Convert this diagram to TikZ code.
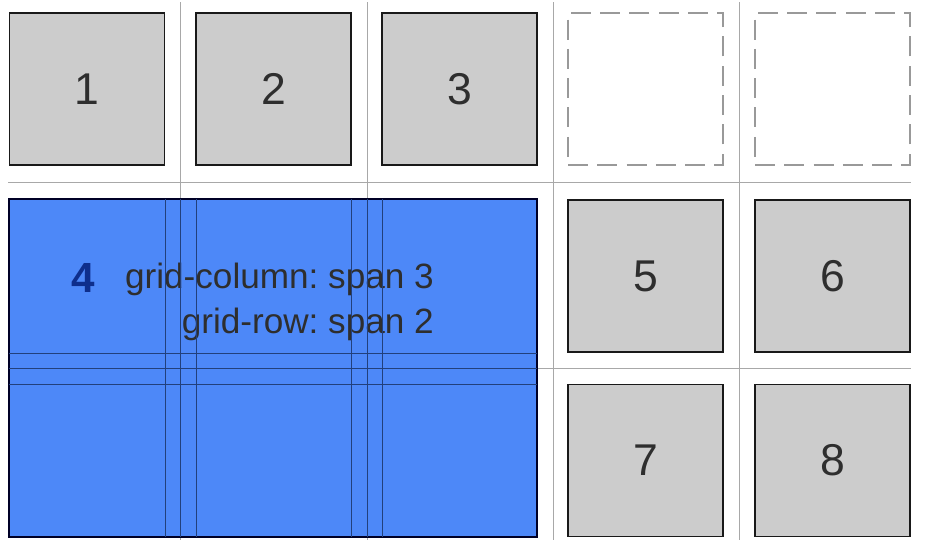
\documentclass[tikz,border=0pt]{standalone}
\usepackage{fontspec}
\setmainfont{Liberation Sans}
\frenchspacing

\definecolor{cellgray}{HTML}{CCCCCC}
\definecolor{linegray}{HTML}{A8A8A8}
\definecolor{dashgray}{HTML}{999999}
\definecolor{itemblue}{HTML}{4D88F8}
\definecolor{tracknavy}{HTML}{22407C}
\definecolor{textgray}{HTML}{2E2E2E}
\definecolor{numblue}{HTML}{0E2E8C}

\tikzset{
  gridline/.style={linegray, line width=0.7pt},
  trackline/.style={tracknavy, line width=0.7pt},
  cell/.style={draw=black!90, fill=cellgray, line width=1.6pt, minimum width=4.65cm, minimum height=4.56cm,
    inner sep=0pt, text=textgray, font=\fontsize{38}{40}\selectfont},
  emptycell/.style={draw=dashgray, line width=1.5pt, dash pattern=on 17pt off 8pt, minimum width=4.65cm,
    minimum height=4.56cm, inner sep=0pt},
  spancell/.style={draw=black!85!blue, fill=itemblue, line width=1.6pt, minimum width=15.84cm,
    minimum height=10.14cm, inner sep=0pt},
  spanlabel/.style={anchor=base east, text=textgray, inner sep=0pt, font=\fontsize{30}{32}\selectfont}
}

\begin{document}
\begin{tikzpicture}[x=0.03cm,y=-0.03cm]
    \useasboundingbox (0,0) rectangle (936,548);

    % gap lines of the grid
    \foreach \gx in {180,367,553,739}
        \draw[gridline] (\gx,2) -- (\gx,540);
    \foreach \gy in {182,368}
        \draw[gridline] (8,\gy) -- (911,\gy);

    % grid items
    \foreach \n/\x/\y in {1/87/89, 2/273.5/89, 3/459.5/89, 5/645.5/276, 6/832.5/276, 7/645.5/460.5, 8/832.5/460.5}
        \node[cell] (item\n) at (\x,\y) {\n};
    \node[emptycell] (free1) at (645.5,89) {};
    \node[emptycell] (free2) at (832.5,89) {};

    % item 4 spanning three columns and two rows
    \node[spancell] (item4) at (273,368) {};
    \node[text=numblue, inner sep=0pt, font=\bfseries\fontsize{36}{38}\selectfont] (num4) at (83,278) {4};
    \node[spanlabel] (colspan) at (434,288) {grid-column: span 3};
    \node[spanlabel] (rowspan) at (434,333) {grid-row: span 2};

    % track edges seen through item 4
    \foreach \tx in {165,180,196,351,367,382}
        \draw[trackline] (\tx,199) -- (\tx,537);
    \foreach \ty in {353,368,384}
        \draw[trackline] (9,\ty) -- (537,\ty);
\end{tikzpicture}
\end{document}
